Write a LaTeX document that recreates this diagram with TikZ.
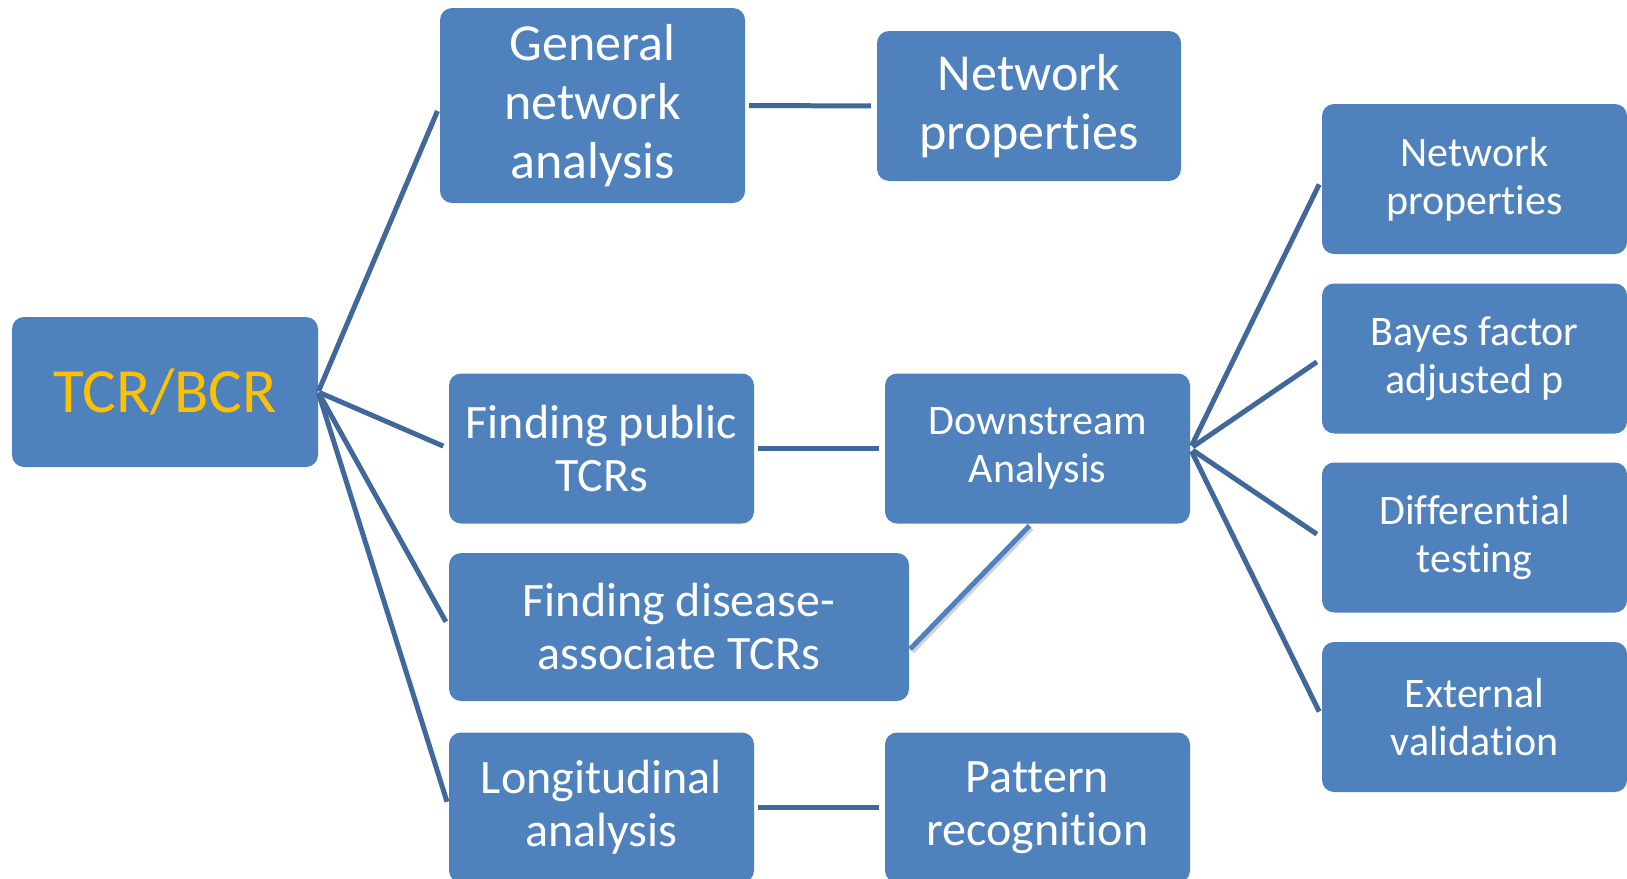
\documentclass[tikz,border=0pt]{standalone}
\usepackage{fontspec}
\setmainfont{Carlito}[RawFeature={-liga;-calt;-clig;-dlig}]
\usetikzlibrary{positioning}

\definecolor{boxblue}{RGB}{79,129,189}
\definecolor{lineblue}{RGB}{65,104,155}
\definecolor{tcrgold}{RGB}{255,192,0}

\begin{document}
\begin{tikzpicture}[x=1pt, y=-1pt]


\tikzstyle{box_style} = [rectangle, rounded corners=12pt, fill=boxblue, text=white, align=center, minimum width=305pt, minimum height=150pt, inner sep=0pt]
\tikzstyle{edge_style} = [draw=lineblue, line width=5pt, shorten >=6pt]
\tikzstyle{big_font} = [font=\fontsize{52}{59}\selectfont]
\tikzstyle{mid_font} = [font=\fontsize{48}{53}\selectfont]
\tikzstyle{small_font} = [font=\fontsize{42}{48}\selectfont]

\useasboundingbox (0,0) rectangle (1627,878);

\node[box_style, font=\fontsize{63}{70}\selectfont, text=tcrgold, minimum width=306pt] (tcr) at (165, 392) {TCR/BCR};

\node[box_style, big_font, minimum height=195pt] (gen) at (592.5, 105.5) {General\\network\\analysis};
\node[box_style, big_font, minimum width=304pt] (netp) at (1029, 106) {Network\\properties};

\node[box_style, mid_font] (pub) at (601.5, 448.5) {Finding public\\TCRs};
\node[box_style, small_font] (down) at (1037.5, 448.5) {Downstream\\Analysis};
\node[box_style, mid_font, minimum width=460pt, minimum height=148pt] (dis) at (679, 627) {Finding disease-\\associate TCRs};
\node[box_style, mid_font] (lon) at (601.5, 807.5) {Longitudinal\\analysis};
\node[box_style, mid_font] (pat) at (1037.5, 807.5) {Pattern\\recognition};

\node[box_style, small_font] (rnet) at (1474.5, 179) {Network\\properties};
\node[box_style, small_font] (bay) at (1474.5, 358.5) {Bayes factor\\adjusted p};
\node[box_style, small_font] (dif) at (1474.5, 537.5) {Differential\\testing};
\node[box_style, small_font] (ext) at (1474.5, 717) {External\\validation};

\draw[edge_style, shorten <=1pt]  (tcr.east) edge (gen.west);
\draw[edge_style, shorten <=1pt]  (tcr.east) edge (pub.west);
\draw[edge_style, shorten <=1pt]  (tcr.east) edge (dis.west);
\draw[edge_style, shorten <=1pt]  (tcr.east) edge (lon.west);

\draw[edge_style, shorten <=4pt]  (gen.east) edge (netp.west);
\draw[edge_style, shorten <=4pt]  (pub.east) edge (down.west);
\draw[edge_style, shorten <=4pt]  (lon.east) edge (pat.west);

\draw[edge_style, shorten <=3pt]  (down.east) edge (rnet.west);
\draw[edge_style, shorten <=3pt]  (down.east) edge (bay.west);
\draw[edge_style, shorten <=3pt]  (down.east) edge (dif.west);
\draw[edge_style, shorten <=3pt]  (down.east) edge (ext.west);

% the lighter one, with a soft shadow
\coordinate (down_foot) at ([xshift=-8pt, yshift=-2pt]down.south);
\coordinate (dis_side) at ([xshift=1pt, yshift=-22pt]dis.east);
\draw[black!35, line width=5pt, opacity=0.5, transform canvas={shift={(2pt,-2.5pt)}}] (down_foot) -- (dis_side);
\draw[boxblue, line width=5pt] (down_foot) -- (dis_side);

\end{tikzpicture}
\end{document}
